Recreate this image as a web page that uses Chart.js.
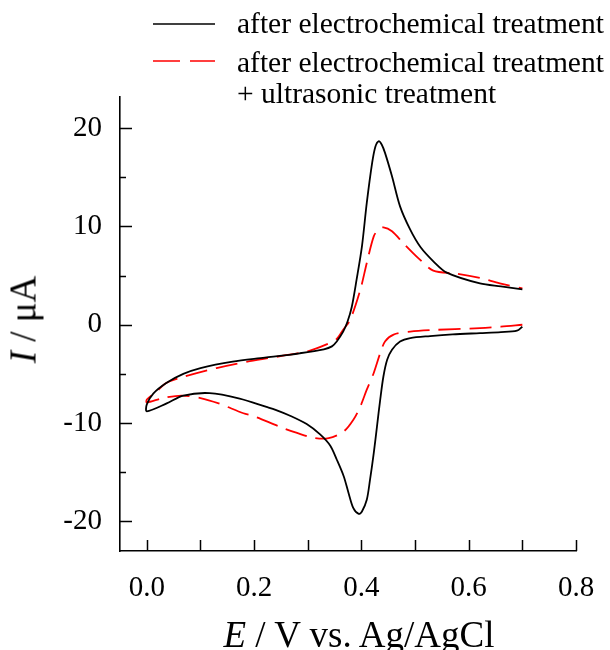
<!DOCTYPE html>
<html>
<head>
<meta charset="utf-8">
<script src="https://cdn.jsdelivr.net/npm/chart.js@4/dist/chart.umd.min.js"></script>
<style>
  html, body { margin: 0; padding: 0; background: #fff; overflow: hidden; }
  #wrap { position: relative; width: 610px; height: 650px; overflow: hidden; font-family: 'Liberation Serif', 'Times New Roman', serif; color: #000; }
  #chart { position: absolute; left: 0; top: 0; }
  .leg { position: absolute; font-size: 29.5px; line-height: normal; white-space: nowrap; }
  .title { position: absolute; font-size: 37px; line-height: normal; white-space: nowrap; text-align: center; }
</style>
</head>
<body>
<div id="wrap">
  <canvas id="chart" width="610" height="650"></canvas>

  <svg style="position:absolute;left:0;top:0" width="610" height="120">
    <line x1="153" y1="24" x2="215" y2="24" stroke="#000" stroke-width="1.6"/>
    <line x1="153" y1="61" x2="215" y2="61" stroke="#ff0000" stroke-width="1.6" stroke-dasharray="27 10"/>
  </svg>
  <div class="leg" style="left:237px;top:7px">after electrochemical treatment</div>
  <div class="leg" style="left:237px;top:46px">after electrochemical treatment</div>
  <div class="leg" style="left:237px;top:77px">+ ultrasonic treatment</div>

  <div class="title" style="left:159px;top:613px;width:400px"><i>E</i> / V vs. Ag/AgCl</div>
  <div class="title" style="left:-77.5px;top:297.5px;width:200px;transform:rotate(-90deg)"><i>I</i> / μA</div>
</div>

<script>
// 掃描順序：0.7 V 往回掃到 0 V，再往正向掃到 0.7 V
const blackE = [0.700, 0.690, 0.660, 0.621, 0.570, 0.528, 0.491, 0.472, 0.457, 0.448, 0.441, 0.435, 0.429, 0.423, 0.416, 0.410, 0.401, 0.395, 0.385, 0.376, 0.367, 0.354, 0.342, 0.323, 0.298, 0.267, 0.240, 0.223, 0.173, 0.117, 0.068, 0.037, 0.000,
                0.000, 0.012, 0.037, 0.068, 0.100, 0.160, 0.220, 0.285, 0.330, 0.345, 0.354, 0.366, 0.374, 0.382, 0.391, 0.401, 0.410, 0.420, 0.426, 0.432, 0.438, 0.444, 0.457, 0.472, 0.491, 0.510, 0.535, 0.559, 0.621, 0.660, 0.700];
const blackI = [-0.2, -0.6, -0.75, -0.85, -0.98, -1.15, -1.35, -1.7, -2.54, -3.56, -5.26, -7.63, -10.35, -13.05, -15.77, -17.8, -18.99, -19.23, -18.65, -17.1, -15.4, -13.7, -12.3, -11.15, -10.1, -9.25, -8.65, -8.35, -7.5, -6.95, -7.2, -8.0, -8.8,
                -8.1, -7.0, -5.9, -5.0, -4.4, -3.75, -3.35, -2.9, -2.5, -2.2, -1.7, -0.7, 0.3, 1.8, 4.58, 7.97, 12.38, 16.45, 18.1, 18.65, 18.3, 17.47, 15.09, 12.03, 9.66, 7.9, 6.4, 5.3, 4.2, 3.9, 3.6];

const redE = [0.700, 0.660, 0.621, 0.528, 0.491, 0.460, 0.444, 0.435, 0.423, 0.410, 0.398, 0.385, 0.367, 0.339, 0.311, 0.280, 0.249, 0.200, 0.180, 0.134, 0.100, 0.065, 0.030, 0.000,
              0.000, 0.018, 0.037, 0.068, 0.130, 0.192, 0.254, 0.300, 0.335, 0.354, 0.366, 0.379, 0.398, 0.410, 0.423, 0.432, 0.441, 0.457, 0.478, 0.506, 0.534, 0.577, 0.621, 0.658, 0.700];
const redI = [0.0, -0.2, -0.34, -0.55, -0.7, -1.0, -1.7, -2.9, -4.9, -6.6, -8.3, -9.66, -10.85, -11.53, -11.5, -11.0, -10.4, -9.3, -9.0, -8.0, -7.45, -7.2, -7.45, -7.9,
              -7.6, -6.8, -5.9, -5.3, -4.4, -3.7, -3.15, -2.7, -2.0, -1.45, -0.5, 0.5, 3.56, 6.28, 8.98, 9.7, 9.9, 9.5, 8.3, 6.78, 5.5, 5.2, 4.75, 4.2, 3.7];

const xTicks = [0.0, 0.2, 0.4, 0.6, 0.8];
const xTickMarks = [0.0, 0.1, 0.2, 0.3, 0.4, 0.5, 0.6, 0.7, 0.8];
const yTicks = [-20, -10, 0, 10, 20];
const yMinorTicks = [-15, -5, 5, 15];

function toPoints(xs, ys) {
    return xs.map((x, i) => ({ x: x, y: ys[i] }));
}

// 刻度線畫在座標軸內側
const innerTicks = {
    id: 'innerTicks',
    afterDraw(chart) {
        const ctx = chart.ctx;
        const xs = chart.scales.x;
        const ys = chart.scales.y;
        const area = chart.chartArea;
        ctx.save();
        ctx.strokeStyle = '#000';
        ctx.lineWidth = 1.5;
        ctx.beginPath();
        xTickMarks.forEach(v => {
            const px = Math.round(xs.getPixelForValue(v)) + 0.5;
            ctx.moveTo(px, area.bottom);
            ctx.lineTo(px, area.bottom - 11);
        });
        yTicks.forEach(v => {
            const py = Math.round(ys.getPixelForValue(v)) + 0.5;
            ctx.moveTo(area.left, py);
            ctx.lineTo(area.left + 12, py);
        });
        yMinorTicks.forEach(v => {
            const py = Math.round(ys.getPixelForValue(v)) + 0.5;
            ctx.moveTo(area.left, py);
            ctx.lineTo(area.left + 6, py);
        });
        ctx.stroke();
        ctx.restore();
    }
};

const tickFont = { family: "'Liberation Serif', 'Times New Roman', serif", size: 29 };

new Chart(document.getElementById('chart'), {
    type: 'scatter',
    data: {
        datasets: [{
            label: 'after electrochemical treatment',
            data: toPoints(blackE, blackI),
            showLine: true,
            borderColor: '#000',
            borderWidth: 1.8,
            pointRadius: 0,
            tension: 0.3,
            fill: false
        }, {
            label: 'after electrochemical treatment + ultrasonic treatment',
            data: toPoints(redE, redI),
            showLine: true,
            borderColor: '#ff0000',
            borderWidth: 1.8,
            borderDash: [22, 9],
            pointRadius: 0,
            tension: 0.3,
            fill: false
        }]
    },
    options: {
        responsive: false,
        animation: false,
        devicePixelRatio: 1,
        layout: { padding: { left: 0, top: 97, right: 34, bottom: 0 } },
        plugins: {
            legend: { display: false },
            tooltip: { enabled: false }
        },
        scales: {
            x: {
                type: 'linear',
                min: -0.05,
                max: 0.8,
                afterFit: s => { s.height = 99; s.paddingLeft = 0; s.paddingRight = 0; },
                afterBuildTicks: s => { s.ticks = xTicks.map(v => ({ value: v })); },
                grid: { drawOnChartArea: false, drawTicks: false },
                border: { display: true, color: '#000', width: 1.6 },
                ticks: {
                    autoSkip: false,
                    maxRotation: 0,
                    padding: 20,
                    color: '#000',
                    font: tickFont,
                    callback: v => Number(v).toFixed(1)
                }
            },
            y: {
                type: 'linear',
                min: -23,
                max: 23.15,
                afterFit: s => { s.width = 120; s.paddingTop = 0; s.paddingBottom = 0; },
                afterBuildTicks: s => { s.ticks = yTicks.map(v => ({ value: v })); },
                grid: { drawOnChartArea: false, drawTicks: false },
                border: { display: true, color: '#000', width: 1.6 },
                ticks: {
                    autoSkip: false,
                    padding: 18,
                    color: '#000',
                    font: tickFont,
                    callback: v => String(v)
                }
            }
        }
    },
    plugins: [innerTicks]
});
</script>
</body>
</html>
